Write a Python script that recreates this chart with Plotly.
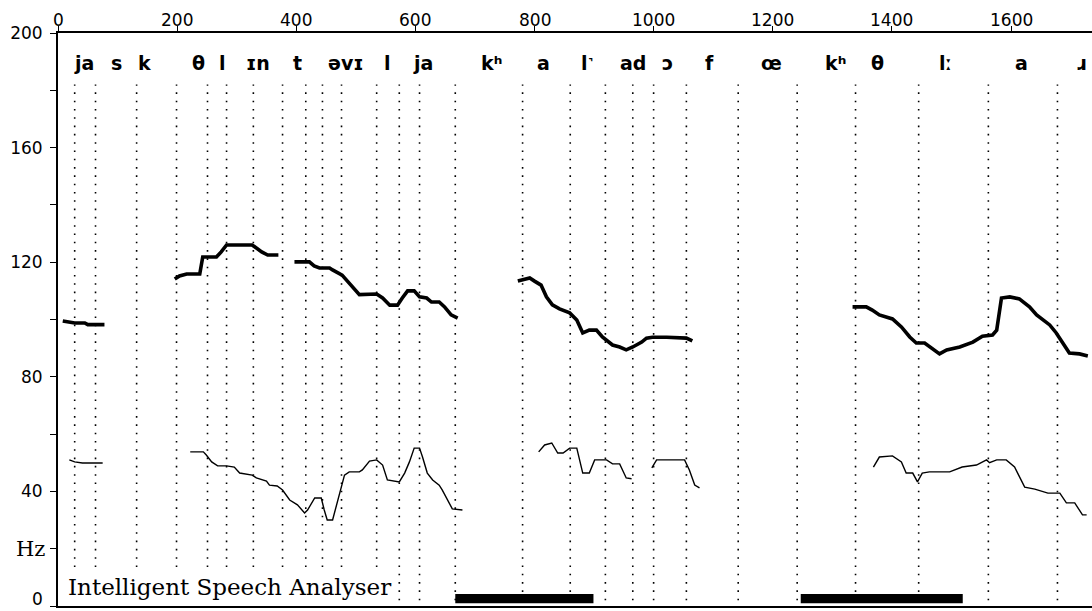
import plotly.graph_objects as go

# ---- data ----
# phoneme boundary times (ms) – dotted vertical lines
boundaries = [28, 63, 132, 199, 251, 283, 328, 377, 416, 444, 476, 535, 573, 607,
              667, 780, 860, 919, 965, 1000, 1055, 1142, 1241, 1339, 1445, 1562, 1678]

# phoneme labels along the top
phon_labels = ["ja", "s", "k", "θ", "l", "ɪn", "t", "əvɪ", "l", "ja", "kʰ", "a", "l˺", "ad",
               "ɔ", "f", "œ", "kʰ", "θ", "lː", "a", "ɹ"]
phon_times = [43, 98, 145, 236, 276, 335, 402, 483, 553, 612, 728, 815, 889, 965,
              1023, 1094, 1198, 1305, 1376, 1490, 1618, 1718]

# fundamental frequency (thick trace), per voiced stretch
f0_t = [
    [8, 20, 28, 45, 50, 78],
    [196, 204, 216, 238, 243, 251, 266, 274, 283, 326, 342, 352, 370],
    [397, 422, 430, 439, 456, 461, 477, 489, 506, 535, 545, 557, 570, 578, 587, 598,
     607, 619, 627, 640, 649, 660, 671],
    [772, 792, 800, 811, 820, 830, 842, 859, 871, 881, 892, 904, 914, 931, 943, 954,
     965, 980, 988, 998, 1022, 1055, 1065],
    [1334, 1357, 1367, 1379, 1401, 1416, 1430, 1441, 1455, 1468, 1480, 1492, 1514, 1536,
     1552, 1569, 1576, 1584, 1598, 1614, 1631, 1643, 1665, 1676, 1686, 1698, 1715, 1729],
]
f0_hz = [
    [99.5, 99.0, 98.8, 98.8, 98.2, 98.2],
    [114.1, 115.2, 115.9, 115.9, 121.8, 121.8, 121.8, 123.6, 126.0, 126.0, 123.6, 122.5, 122.5],
    [120.1, 120.1, 118.7, 118.0, 118.0, 117.3, 115.5, 112.7, 108.7, 108.9, 107.5, 105.0,
     105.0, 107.5, 110.0, 110.0, 107.9, 107.5, 106.1, 106.1, 104.4, 101.6, 100.5],
    [113.4, 114.5, 113.4, 112.0, 107.9, 105.1, 103.7, 102.3, 99.8, 95.3, 96.3, 96.3,
     93.9, 91.1, 90.4, 89.4, 90.4, 92.1, 93.5, 93.8, 93.8, 93.5, 92.5],
    [104.4, 104.4, 103.3, 101.6, 100.2, 97.4, 93.9, 91.8, 91.8, 90.0, 88.0, 89.4, 90.4,
     92.1, 94.2, 94.6, 96.3, 107.5, 107.9, 107.2, 104.4, 101.6, 98.1, 95.3, 92.1, 88.3,
     88.0, 87.3],
]

# lower (thin) trace
low_t = [
    [19, 28, 41, 75],
    [222, 244, 249, 258, 268, 283, 296, 305, 326, 333, 350, 355, 368, 377, 389, 402, 414,
     419, 431, 442, 447, 452, 461, 469, 476, 481, 489, 506, 511, 523, 535, 545, 553, 573,
     582, 590, 598, 607, 612, 620, 629, 640, 645, 654, 662, 679],
    [807, 817, 829, 839, 848, 859, 871, 881, 892, 901, 921, 931, 943, 954, 963],
    [997, 1005, 1052, 1060, 1069, 1077],
    [1369, 1379, 1401, 1416, 1424, 1435, 1443, 1451, 1463, 1497, 1518, 1542, 1559, 1564,
     1576, 1592, 1606, 1623, 1640, 1662, 1682, 1693, 1707, 1720, 1727],
]
low_hz = [
    [51.0, 50.3, 49.9, 49.9],
    [53.8, 53.8, 52.7, 50.3, 48.9, 48.9, 48.5, 46.4, 45.7, 44.7, 43.6, 42.2, 41.9, 40.5,
     37.0, 35.3, 32.5, 33.5, 37.7, 37.7, 33.5, 30.0, 30.0, 36.3, 41.2, 45.7, 46.8, 46.8,
     47.5, 50.6, 51.0, 49.2, 44.0, 43.3, 46.4, 50.3, 55.1, 55.1, 52.0, 46.4, 44.0, 42.2,
     40.5, 37.0, 33.9, 33.5],
    [53.8, 56.2, 56.9, 53.4, 53.4, 55.1, 55.1, 46.4, 46.4, 51.0, 51.0, 49.6, 49.6, 44.7, 44.4],
    [48.2, 51.0, 51.0, 47.5, 42.2, 41.2],
    [48.5, 52.0, 52.4, 50.3, 46.4, 46.4, 43.3, 46.4, 46.8, 46.8, 48.5, 49.2, 51.0, 50.0,
     51.0, 51.0, 48.5, 41.5, 40.8, 39.4, 39.4, 36.0, 36.0, 31.8, 31.8],
]

# black bars along the bottom (start, end in ms)
bar_start = [667, 1247]
bar_end = [899, 1519]

x_ticks = [0, 200, 400, 600, 800, 1000, 1200, 1400, 1600]
y_ticks = [0, 20, 40, 60, 80, 100, 120, 140, 160, 180, 200]
y_ticktext = ["", "", "40", "", "80", "", "120", "", "160", "", "200"]


def join(segs):
    out = []
    for i, s in enumerate(segs):
        if i:
            out.append(None)
        out.extend(s)
    return out


fig = go.Figure()

fig.add_trace(go.Scatter(x=join(low_t), y=join(low_hz), mode="lines",
                         line=dict(color="black", width=1.4), hoverinfo="skip"))
fig.add_trace(go.Scatter(x=join(f0_t), y=join(f0_hz), mode="lines",
                         line=dict(color="black", width=3.6), hoverinfo="skip"))

shapes = []
for b in boundaries:
    shapes.append(dict(type="line", xref="x", yref="y", x0=b, x1=b, y0=2.0, y1=182,
                       line=dict(color="black", width=1.6, dash="1.6px,6.7px"),
                       layer="below"))
for s, e in zip(bar_start, bar_end):
    shapes.append(dict(type="rect", xref="x", yref="y", x0=s, x1=e, y0=1.0, y1=4.2,
                       fillcolor="black", line=dict(width=0), layer="above"))

annotations = []
for lab, t in zip(phon_labels, phon_times):
    annotations.append(dict(x=t, y=185.0, xref="x", yref="y", text="<b>" + lab + "</b>",
                            showarrow=False, xanchor="center", yanchor="bottom",
                            font=dict(family="DejaVu Sans", size=19, color="black")))
# top time-axis labels, sitting right on the tick marks
for v in x_ticks:
    annotations.append(dict(x=v, y=1, xref="x", yref="paper", text=str(v), showarrow=False,
                            xanchor="center", yanchor="bottom", yshift=1,
                            font=dict(family="DejaVu Sans", size=17, color="black")))
annotations.append(dict(x=14, y=1.3, xref="x", yref="y", text="Intelligent Speech Analyser",
                        showarrow=False, xanchor="left", yanchor="bottom", bgcolor="white",
                        borderpad=1,
                        font=dict(family="DejaVu Serif", size=23, color="black")))
annotations.append(dict(x=-0.011, y=20, xref="paper", yref="y", text="Hz", showarrow=False,
                        xanchor="right", yanchor="middle",
                        font=dict(family="DejaVu Serif", size=21, color="black")))
annotations.append(dict(x=-0.013, y=0, xref="paper", yref="y", text="0", showarrow=False,
                        xanchor="right", yanchor="bottom", yshift=-5,
                        font=dict(family="DejaVu Sans", size=17, color="black")))

fig.update_layout(
    width=1092, height=611,
    margin=dict(l=58, r=0, t=33, b=5, pad=0),
    paper_bgcolor="white", plot_bgcolor="white",
    showlegend=False,
    shapes=shapes, annotations=annotations,
    xaxis=dict(range=[0, 1736], side="top", showgrid=False, zeroline=False,
               showline=True, linecolor="black", linewidth=2, mirror=True,
               ticks="outside", ticklen=5, tickwidth=1, tickcolor="black",
               tickvals=x_ticks, showticklabels=False,
               fixedrange=True),
    yaxis=dict(range=[0, 200], showgrid=False, zeroline=False,
               showline=True, linecolor="black", linewidth=2,
               ticks="outside", ticklen=6, tickwidth=1, tickcolor="black",
               tickvals=y_ticks, ticktext=y_ticktext,
               ticklabelstandoff=4,
               tickfont=dict(family="DejaVu Sans", size=17, color="black"),
               fixedrange=True),
)

fig.write_html("out.html", config={"displayModeBar": False},
               post_script="document.body.style.margin='0';document.body.style.overflow='hidden';")
